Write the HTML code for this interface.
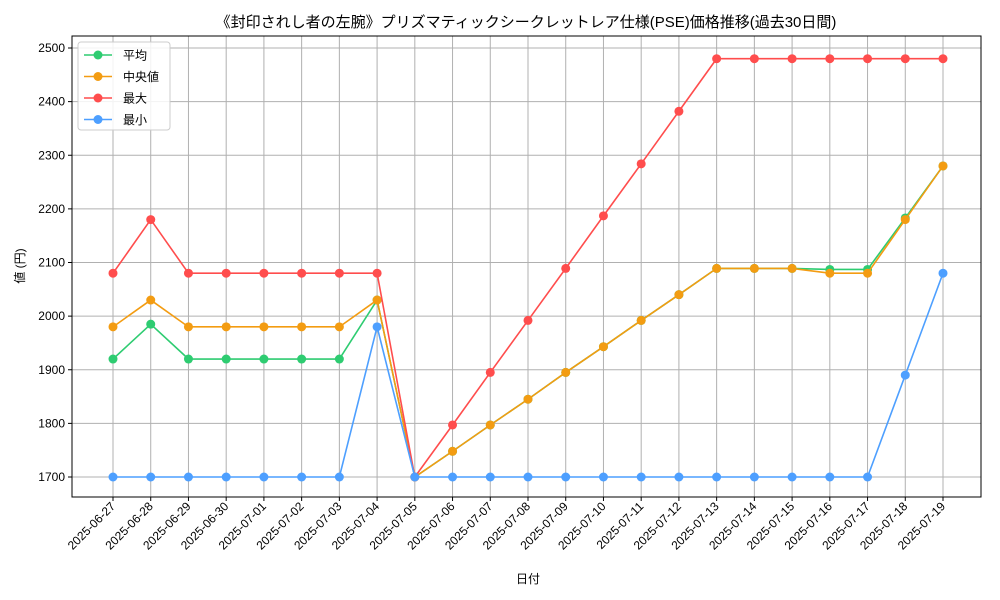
<!DOCTYPE html>
<html><head><meta charset="utf-8">
<style>
body{margin:0;background:#fff;}
svg{display:block;font-family:"Liberation Sans","Noto Sans CJK JP",sans-serif;}
</style></head>
<body>
<svg id="chart" width="1000" height="600">
<rect width="1000" height="600" fill="#fff"/>
<text x="526" y="27" text-anchor="middle" font-size="15" fill="#000">《封印されし者の左腕》プリズマティックシークレットレア仕様(PSE)価格推移(過去30日間)</text>
<g id="grid"></g>
<rect x="72" y="36" width="909" height="461" fill="none" stroke="#000" stroke-width="1"/>
<g id="ticks"></g>
<g id="series"></g>
<text x="528" y="583" text-anchor="middle" font-size="12">日付</text>
<text transform="translate(24,266) rotate(-90)" text-anchor="middle" font-size="12">値 (円)</text>
<g id="legend"></g>
</svg>
<script>
const dates=["2025-06-27","2025-06-28","2025-06-29","2025-06-30","2025-07-01","2025-07-02","2025-07-03","2025-07-04","2025-07-05","2025-07-06","2025-07-07","2025-07-08","2025-07-09","2025-07-10","2025-07-11","2025-07-12","2025-07-13","2025-07-14","2025-07-15","2025-07-16","2025-07-17","2025-07-18","2025-07-19"];
const meanVals=[1920,1985,1920,1920,1920,1920,1920,2030,1700,1748,1797,1845,1895,1943,1992,2040,2089,2089,2089,2087,2087,2183,2280];
const medianVals=[1980,2030,1980,1980,1980,1980,1980,2030,1700,1748,1797,1845,1895,1943,1992,2040,2089,2089,2089,2080,2080,2180,2280];
const maxVals=[2080,2180,2080,2080,2080,2080,2080,2080,1700,1797,1895,1992,2089,2187,2284,2382,2480,2480,2480,2480,2480,2480,2480];
const minVals=[1700,1700,1700,1700,1700,1700,1700,1980,1700,1700,1700,1700,1700,1700,1700,1700,1700,1700,1700,1700,1700,1890,2080];
const yTicks=[1700,1800,1900,2000,2100,2200,2300,2400,2500];
const seriesNames=["平均","中央値","最大","最小"];
const NS="http://www.w3.org/2000/svg";
const xs=i=>113+i*(943-113)/(dates.length-1);
const ys=v=>477-(v-1700)*(477-48)/800;
function mk(tag,attrs,parent){const e=document.createElementNS(NS,tag);for(const k in attrs)e.setAttribute(k,attrs[k]);parent.appendChild(e);return e;}
const grid=document.getElementById('grid'),ticks=document.getElementById('ticks'),ser=document.getElementById('series'),leg=document.getElementById('legend');
dates.forEach((d,i)=>{
  const l=mk('line',{x1:xs(i),x2:xs(i),y1:36,y2:497,stroke:'#b0b0b0','stroke-width':1},grid);
  
  
  mk('line',{x1:xs(i),x2:xs(i),y1:497,y2:501,stroke:'#000'},ticks);
  const t=mk('text',{x:xs(i)+3,y:507,'font-size':12,'text-anchor':'end',transform:`rotate(-45 ${xs(i)+3} 507)`},ticks);
  t.textContent=d;
  
  
});
yTicks.forEach(v=>{
  const l=mk('line',{x1:72,x2:981,y1:ys(v),y2:ys(v),stroke:'#b0b0b0','stroke-width':1},grid);
  
  
  mk('line',{x1:68,x2:72,y1:ys(v),y2:ys(v),stroke:'#000'},ticks);
  const t=mk('text',{x:65,y:ys(v)+4,'font-size':12,'text-anchor':'end'},ticks);
  t.textContent=v;
  
  
});
const all=[meanVals,medianVals,maxVals,minVals];
const colors=["#2ecc71","#f39c12","#ff4d4d","#4d9fff"];
const names=["series-mean","series-median","series-max","series-min"];
[0,1,2,3].forEach(s=>{
  const g=mk('g',{},ser);
  
  
  mk('polyline',{points:all[s].map((v,i)=>xs(i)+','+ys(v)).join(' '),fill:'none',stroke:colors[s],'stroke-width':1.6},g);
  all[s].forEach((v,i)=>{
    const c=mk('circle',{cx:xs(i),cy:ys(v),r:4.5,fill:colors[s]},g);
    
    
  });
});
const box=mk('rect',{x:78,y:42,width:92,height:88,rx:3,fill:'#fff',stroke:'#ccc','fill-opacity':0.85},leg);


seriesNames.forEach((n,k)=>{
  const y=55+k*21.5;
  const g=mk('g',{},leg);
  
  
  mk('line',{x1:84,x2:112,y1:y,y2:y,stroke:colors[k],'stroke-width':1.6},g);
  mk('circle',{cx:98,cy:y,r:4.5,fill:colors[k]},g);
  const t=mk('text',{x:123,y:y+4.5,'font-size':12},g);
  t.textContent=n;
});
</script>
</body></html>
